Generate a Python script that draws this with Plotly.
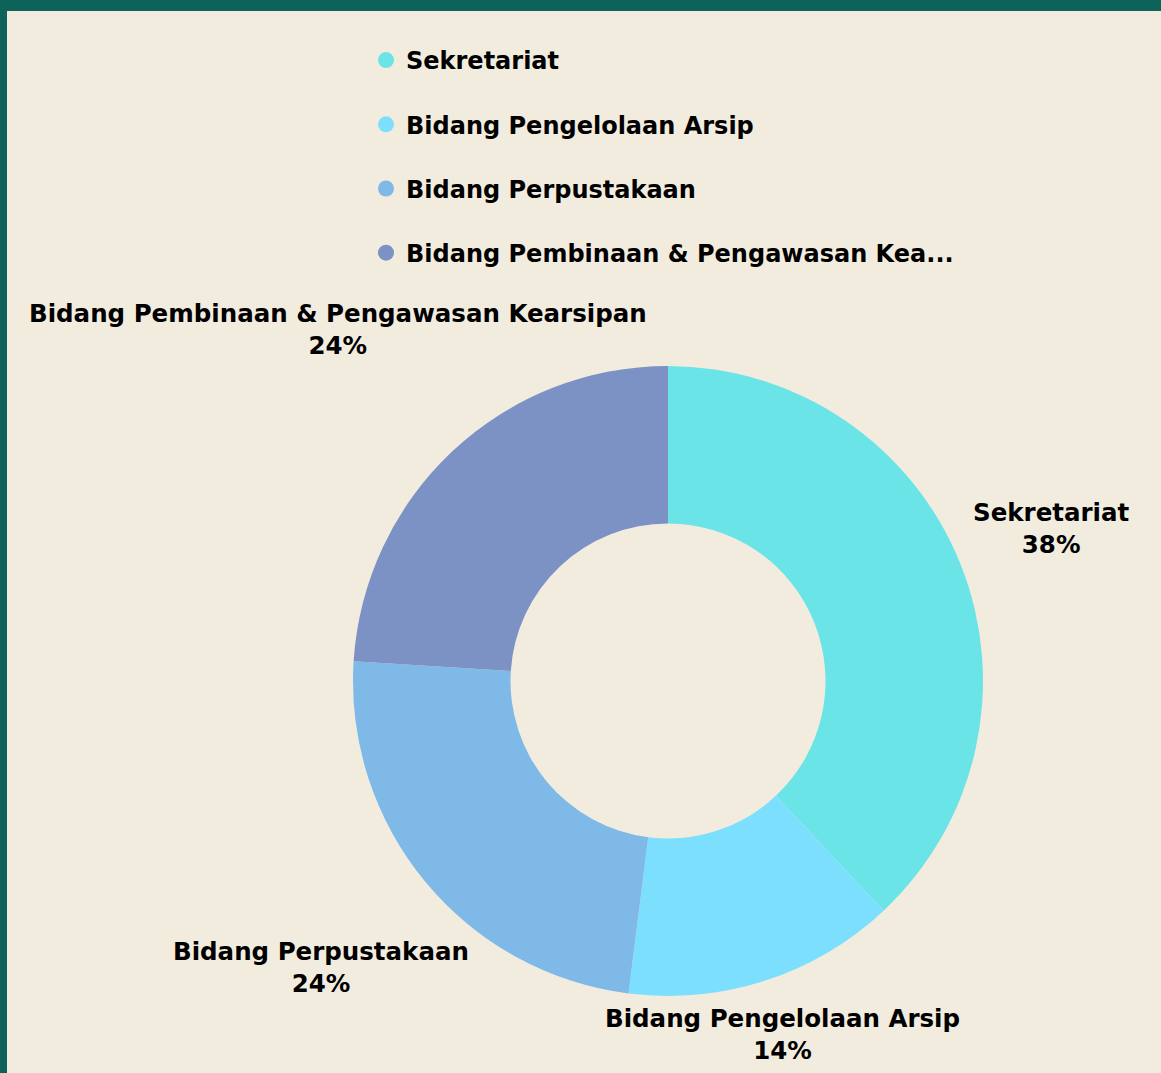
import math
import plotly.graph_objects as go

# data
categories = ["Sekretariat", "Bidang Pengelolaan Arsip", "Bidang Perpustakaan",
              "Bidang Pembinaan & Pengawasan Kearsipan"]
values = [38, 14, 24, 24]
colors = ["#6BE4E7", "#7CDFFE", "#7FB9E8", "#7D92C4"]

W, H = 1161, 1073
BG = "#F2ECDF"
EDGE = "#0D6359"
LABEL_FONT = dict(family="DejaVu Sans", size=24.5, color="#000000", weight="bold")
LEGEND_FONT = dict(family="DejaVu Sans", size=24, color="#000000", weight="bold")

# pie geometry (px)
cx, cy, R = 668, 681, 315
label_dist = [413, 372, 450, 482]


def short(s, n=33):
    return s if len(s) <= n else s[:n] + "..."


fig = go.Figure()

fig.add_trace(go.Pie(
    labels=categories, values=values, hole=0.5, sort=False,
    direction="clockwise", rotation=0,
    marker=dict(colors=colors, line=dict(width=0)),
    textinfo="none", hoverinfo="label+percent", showlegend=False,
    domain=dict(x=[(cx - R) / W, (cx + R) / W],
                y=[(H - cy - R) / H, (H - cy + R) / H]),
))

# legend with round markers
for i, (name, col) in enumerate(zip(categories, colors)):
    fig.add_trace(go.Scatter(
        x=[None], y=[None], mode="markers", name=short(name),
        marker=dict(symbol="circle", size=22, color=col),
        legendgroup=f"g{i}", showlegend=True,
    ))

# outside labels, placed along each slice's mid angle
total = sum(values)
cum = 0
annotations = []
for name, v, d in zip(categories, values, label_dist):
    mid = (cum + v / 2) / total * 2 * math.pi
    cum += v
    px_ = cx + d * math.sin(mid)
    py_ = (H - cy) + d * math.cos(mid)
    pct = round(v / total * 100)
    annotations.append(dict(
        x=px_ / W, y=py_ / H, xref="paper", yref="paper",
        text=f"{name}<br>{pct}%", showarrow=False,
        xanchor="center", yanchor="middle", align="center", font=LABEL_FONT,
    ))

fig.update_layout(
    width=W, height=H,
    margin=dict(l=0, r=0, t=0, b=0),
    paper_bgcolor=BG, plot_bgcolor=BG,
    xaxis=dict(visible=False), yaxis=dict(visible=False),
    annotations=annotations,
    legend=dict(x=366 / W, y=1 - 38 / H, xanchor="left", yanchor="top",
                font=LEGEND_FONT, bgcolor="rgba(0,0,0,0)", tracegroupgap=30,
                itemsizing="trace"),
    shapes=[
        dict(type="rect", xref="paper", yref="paper", x0=0, x1=1,
             y0=1 - 11 / H, y1=1, fillcolor=EDGE, line=dict(width=0)),
        dict(type="rect", xref="paper", yref="paper", x0=0, x1=7 / W,
             y0=0, y1=1, fillcolor=EDGE, line=dict(width=0)),
    ],
)

fig.write_html("out.html", config={"displayModeBar": False},
               post_script="document.body.style.margin='0';")
